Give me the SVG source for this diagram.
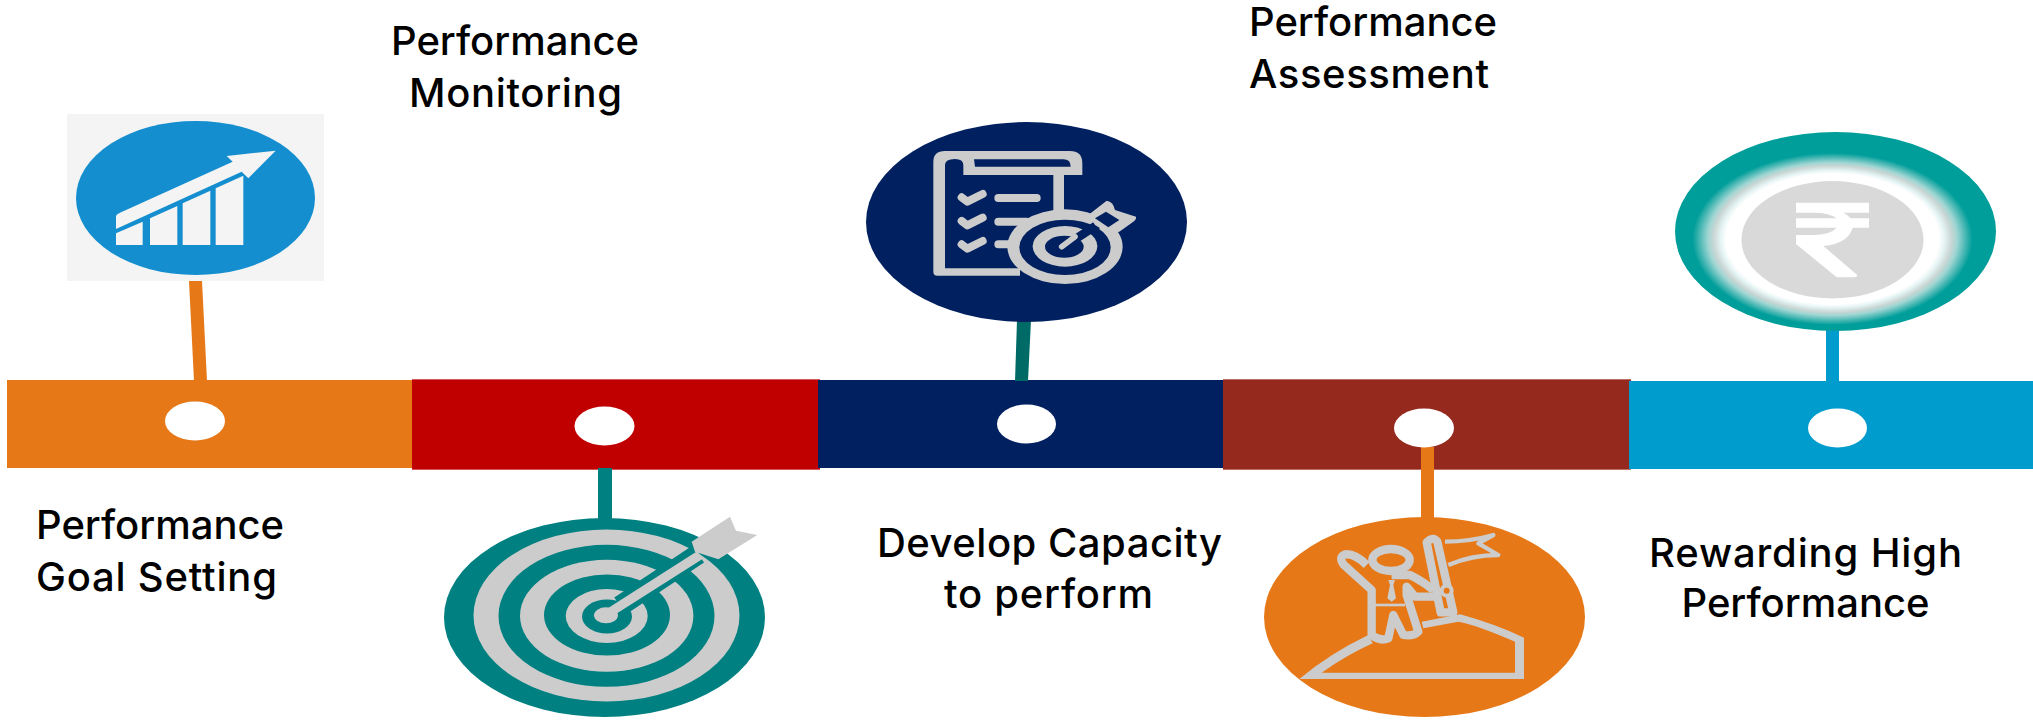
<svg xmlns="http://www.w3.org/2000/svg" width="2033" height="721" viewBox="0 0 2033 721">
<style>
text{font-family:Inter,"Liberation Sans",sans-serif;font-weight:500;font-size:40px;fill:#000}
.c{text-anchor:middle}
.dot{fill:#fff}
.g{fill:#ccc}
.n{fill:#002060}
.ln{fill:none;stroke:#ccc}
</style>
<defs>
<radialGradient id="glow" cx="1832.5" cy="239" r="1" gradientUnits="userSpaceOnUse" gradientTransform="translate(1832.5 239) scale(140 86) translate(-1832.5 -239)">
<stop offset="0" stop-color="#fff"/><stop offset=".76" stop-color="#fff"/><stop offset=".8" stop-color="#e4f4f3"/><stop offset=".85" stop-color="#c9d6d4"/><stop offset=".89" stop-color="#a0d6d3"/><stop offset="1" stop-color="#009e9a"/>
</radialGradient>
</defs>
<g id="timeline">
<rect x="7" y="380" width="405" height="88" fill="#e67817"/>
<rect x="412" y="379" width="408" height="91" fill="#d3585c"/><rect x="412" y="380" width="408" height="89" fill="#c00000"/>
<rect x="818" y="380" width="405" height="88" fill="#002060"/>
<rect x="1223" y="379" width="408" height="91" fill="#bd6f66"/><rect x="1223" y="380" width="408" height="89" fill="#95291e"/>
<rect x="1629" y="381" width="404" height="88" fill="#009ccd"/>
</g>
<g id="connectors">
<polygon points="189,281 202,281 207,381 194,381" fill="#e67817"/>
<rect x="598" y="468" width="14" height="52" fill="#008080"/>
<polygon points="1017,320 1031,320 1028,381 1015,381" fill="#006b66"/>
<rect x="1421" y="447" width="13" height="72" fill="#e67817"/>
<rect x="1826" y="329" width="13" height="52" fill="#009ccd"/>
</g>
<g id="dots">
<ellipse class="dot" cx="195" cy="421" rx="30" ry="19.5"/>
<ellipse class="dot" cx="604.5" cy="426" rx="30" ry="19.5"/>
<ellipse class="dot" cx="1026.5" cy="424" rx="29.5" ry="19.5"/>
<ellipse class="dot" cx="1424" cy="428" rx="30" ry="19.5"/>
<ellipse class="dot" cx="1837.5" cy="428" rx="29.5" ry="19.5"/>
</g>
<g id="node-goal">
<rect x="67" y="114" width="257" height="167" fill="#f4f4f4"/>
<ellipse cx="195.5" cy="198" rx="119.5" ry="77" fill="#148ecf"/>
<g transform="translate(40 90) scale(.33333)" fill="#f4f4f4">
<path d="M228 378Q230 372 240 368L578 215 560 198 707 182 625 265 605 245 228 417Z"/>
<path d="M228 430 308 395V465H228Z"/><path d="M330 385 412 348V465H330Z"/><path d="M428 340 511 302V465H428Z"/><path d="M527 295 610 257V465H527Z"/>
</g>
<text x="36" y="539" textLength="248">Performance</text><text x="36" y="591" textLength="241">Goal Setting</text>
</g>
<g id="node-monitoring">
<ellipse cx="604.5" cy="617.5" rx="160.5" ry="99.5" fill="#008080"/>
<ellipse class="g" cx="606.5" cy="615.5" rx="133" ry="86"/>
<ellipse cx="606.5" cy="615.8" rx="108" ry="71" fill="#008080"/>
<ellipse class="g" cx="606.7" cy="615.8" rx="86.7" ry="56"/>
<ellipse cx="607" cy="615" rx="63" ry="40.5" fill="#008080"/>
<ellipse class="g" cx="606.7" cy="616" rx="41" ry="27"/>
<ellipse cx="607" cy="616.5" rx="25" ry="17" fill="#008080"/>
<g transform="translate(420 480) scale(.33333)">
<path d="M600 378 835 222" stroke="#008080" stroke-width="62" fill="none"/>
<ellipse class="g" cx="558" cy="406" rx="36" ry="24"/>
<path d="M565 400 840 225" stroke="#ccc" stroke-width="28" fill="none"/>
<path class="g" d="M815 185 930 110 948 152 1012 165 895 238 825 215Z"/>
</g>
<text class="c" x="515" y="55" textLength="248">Performance</text><text class="c" x="515.5" y="107" textLength="213">Monitoring</text>
</g>
<g id="node-capacity">
<ellipse cx="1026.5" cy="222" rx="160.5" ry="100" fill="#002060"/>
<g transform="translate(850 120) scale(.33333)">
<path class="g" d="M250 125Q250 93 285 93H660Q697 93 697 130V165H642V290H610V165H340V135Q340 117 315 117 285 117 285 135V445H510V467H262Q250 467 250 455Z"/>
<path class="n" d="M372 118H640Q662 118 662 140H375Z"/>
<g class="ln" stroke-width="24" stroke-linecap="round" stroke-linejoin="round">
<path d="M335 232 352 245 398 222M335 303 352 316 398 293M335 373 352 386 398 363"/>
<path d="M445 234H560M445 305H530M445 373H495"/>
</g>
<ellipse class="g" cx="645" cy="380" rx="173" ry="112"/>
<ellipse class="n" cx="645" cy="382" rx="137" ry="83"/>
<ellipse class="g" cx="645" cy="379" rx="97" ry="61"/>
<ellipse class="n" cx="643" cy="380" rx="58" ry="33"/>
<path d="M660 368 770 296" stroke="#002060" stroke-width="26" fill="none"/>
<path class="g" d="M715 285 770 242Q790 245 795 270L858 290Q860 298 850 305L808 335 775 340 735 315Z"/>
<path class="n" d="M735 295 768 275 808 300 775 322Z"/>
<path d="M635 380 675 350" stroke="#ccc" stroke-width="17" stroke-linecap="round" fill="none"/>
</g>
<text class="c" x="1049.5" y="557" textLength="345">Develop Capacity</text><text class="c" x="1048.5" y="608" textLength="209">to perform</text>
</g>
<g id="node-assessment">
<ellipse cx="1424.5" cy="617" rx="160.5" ry="100" fill="#e67817"/>
<g transform="translate(1250 500) scale(.33333)">
<path class="g" d="M148 537Q240 460 355 405L368 430Q290 465 215 518H795V425Q680 375 625 365L520 385 515 365 630 343Q730 370 822 413V537Z"/>
<g class="ln" stroke-width="25" stroke-linejoin="round">
<ellipse cx="423" cy="180" rx="56" ry="33"/>
<path d="M350 195Q315 160 285 163 265 170 280 193L365 270V405Q390 425 415 415L430 345 460 405Q490 410 505 395L470 285V260L495 290H570"/>
<path d="M425 225H480Q520 245 550 270"/>
<path d="M530 127Q550 107 562 125L610 337H572Z" stroke-width="25" fill="#e67817"/>
<circle cx="590" cy="272" r="15" fill="#e67817" stroke-width="12"/>
<path d="M585 125Q660 125 730 105L685 130 745 165Q665 165 595 195" stroke-width="13"/>
</g>
<path class="g" d="M415 240H435L430 255 438 295 425 305 412 295 420 255Z"/>
<path d="M375 315H465" stroke="#ccc" stroke-width="8"/>
</g>
<text x="1249" y="36" textLength="248">Performance</text><text x="1249" y="88" textLength="240">Assessment</text>
</g>
<g id="node-reward">
<ellipse cx="1835.5" cy="231.5" rx="160.5" ry="99.5" fill="#009e9a"/>
<ellipse cx="1832.5" cy="239" rx="140" ry="86" fill="url(#glow)"/>
<ellipse cx="1832.5" cy="239.7" rx="91" ry="58.7" fill="#d9d9d9"/>
<path transform="translate(1660 120) scale(.33333)" fill="#fff" d="M408 248H627V278H550Q565 285 572 295H627V323H578Q565 370 490 378L592 465Q592 472 580 472H530L408 372V345H460Q510 345 530 323H408V295H530Q510 278 460 278H408Z"/>
<text class="c" x="1805.5" y="567" textLength="313">Rewarding High</text><text class="c" x="1805.5" y="617" textLength="248">Performance</text>
</g>
</svg>
